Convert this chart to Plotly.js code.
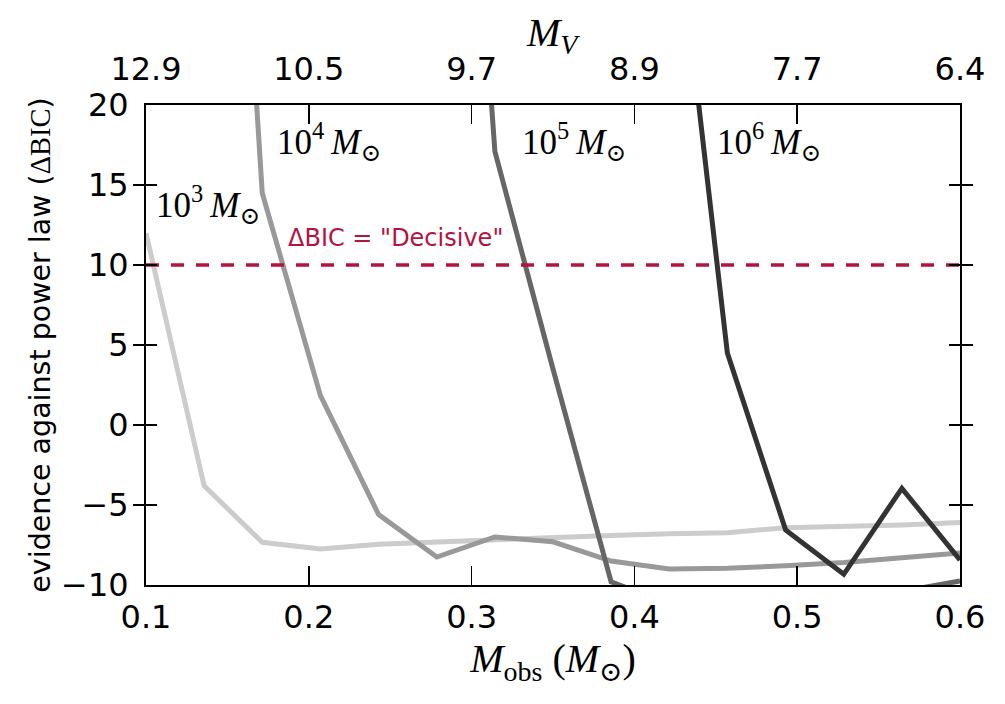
<!DOCTYPE html>
<html>
<head>
<meta charset="utf-8">
<script src="https://cdn.plot.ly/plotly-3.0.1.min.js"></script>
<style>
  html, body { margin: 0; padding: 0; background: #ffffff; }
  #chart { width: 1005px; height: 704px; }
</style>
</head>
<body>
<div id="chart"></div>
<script>
// Observed mass grid (solar masses)
const mObs = [0.1, 0.1357, 0.1714, 0.2071, 0.2429, 0.2786, 0.3143, 0.35,
              0.3857, 0.4214, 0.4571, 0.4929, 0.5286, 0.5643, 0.6];

// Delta BIC against a pure power law, one series per cluster mass
const bic1e3 = [12.0, -3.8, -7.33, -7.75, -7.45, -7.3, -7.2, -7.0,
                -6.9, -6.8, -6.73, -6.42, -6.35, -6.25, -6.1];
const bic1e4 = [null, 72, 14.5, 1.85, -5.6, -8.25, -7.0, -7.3,
                -8.5, -9.0, -8.95, -8.8, -8.6, -8.3, -8.0];
const bic1e5 = [null, null, null, null, null, 68, 17.1, 3.5,
                -9.8, -11.2, -11.0, -10.9, -10.8, -10.4, -9.75];
const bic1e6 = [null, null, null, null, null, null, null, null,
                null, 36, 4.5, -6.56, -9.33, -3.96, -8.44];

const seriesNames = ["10<sup>3</sup>\u2009<i>M</i><sub>⊙</sub>",
                     "10<sup>4</sup>\u2009<i>M</i><sub>⊙</sub>",
                     "10<sup>5</sup>\u2009<i>M</i><sub>⊙</sub>",
                     "10<sup>6</sup>\u2009<i>M</i><sub>⊙</sub>"];
const seriesValues = [bic1e3, bic1e4, bic1e5, bic1e6];

// Bottom axis ticks and the matching absolute V magnitudes on top
const massTicks = [0.1, 0.2, 0.3, 0.4, 0.5, 0.6];
const magLabels = ["12.9", "10.5", "9.7", "8.9", "7.7", "6.4"];
const topAxisTitle = "<i>M</i><sub><i>V</i></sub>";

// "Decisive" evidence threshold
const decisiveLevel = 10;
const decisiveLabel = "ΔBIC = \"Decisive\"";

// Label anchor points (x, y in data units) for each mass curve
const labelX = [0.1050, 0.1795, 0.3300, 0.4497];
const labelY = [13.8, 17.7, 17.7, 17.7];

const lineColors = ["#cccccc", "#999999", "#666666", "#333333"];
const mathFont = "Liberation Serif, DejaVu Serif, serif";
const sansFont = "DejaVu Sans, sans-serif";

const traces = seriesValues.map((vals, i) => ({
  x: mObs,
  y: vals,
  type: "scatter",
  mode: "lines",
  line: { color: lineColors[i], width: 5 },
  name: seriesNames[i],
  hoverinfo: "x+y",
  showlegend: false
}));

// threshold line, drawn on the top (magnitude) axis which shares the mass range
traces.push({
  x: [massTicks[0], massTicks[massTicks.length - 1]],
  y: [decisiveLevel, decisiveLevel],
  xaxis: "x2",
  type: "scatter",
  mode: "lines",
  line: { color: "#b5123f", width: 3.5, dash: "13px,12px" },
  hoverinfo: "skip",
  showlegend: false
});

const annotations = seriesNames.map((t, i) => ({
  x: labelX[i], y: labelY[i], xref: "x", yref: "y",
  text: t, showarrow: false, xanchor: "left", yanchor: "middle",
  font: { family: mathFont, size: 35, color: "#000000" }
}));
annotations.push({
  x: 0.186, y: 11.66, xref: "x", yref: "y",
  text: decisiveLabel, showarrow: false, xanchor: "left", yanchor: "middle",
  font: { family: sansFont, size: 24, color: "#b5123f" }
});
// title of the top magnitude axis, set above its tick labels
annotations.push({
  x: 0.5, y: 1, xref: "paper", yref: "paper",
  text: topAxisTitle, showarrow: false, xanchor: "center", yanchor: "middle",
  yshift: 70,
  font: { family: mathFont, size: 40, color: "#000000" }
});

const layout = {
  width: 1005,
  height: 704,
  margin: { l: 146, r: 45, t: 105, b: 119, pad: 0 },
  paper_bgcolor: "#ffffff",
  plot_bgcolor: "#ffffff",
  showlegend: false,
  xaxis: {
    range: [0.1, 0.6],
    tickvals: massTicks,
    tickformat: ".1f",
    ticks: "inside",
    ticklen: 19,
    tickwidth: 1.5,
    tickcolor: "#000000",
    ticklabelstandoff: 3,
    showline: true,
    linewidth: 2,
    linecolor: "#000000",
    mirror: true,
    showgrid: false,
    zeroline: false,
    tickfont: { family: sansFont, size: 32, color: "#000000" },
    title: {
      text: "<i>M</i><sub>obs</sub> (<i>M</i><sub>⊙</sub>)",
      font: { family: mathFont, size: 40, color: "#000000" },
      standoff: 4
    }
  },
  xaxis2: {
    overlaying: "x",
    side: "top",
    range: [0.1, 0.6],
    tickvals: massTicks,
    ticktext: magLabels,
    ticks: "inside",
    ticklen: 19,
    tickwidth: 1.5,
    tickcolor: "#000000",
    ticklabelstandoff: 18,
    showline: false,
    showgrid: false,
    zeroline: false,
    tickfont: { family: sansFont, size: 32, color: "#000000" }
  },
  yaxis: {
    range: [-10, 20],
    tickvals: [-10, -5, 0, 5, 10, 15, 20],
    ticks: "inside",
    ticklen: 11,
    tickwidth: 1.5,
    tickcolor: "#000000",
    ticklabelstandoff: 9,
    showline: true,
    linewidth: 2,
    linecolor: "#000000",
    mirror: "allticks",
    showgrid: false,
    zeroline: false,
    tickfont: { family: sansFont, size: 32, color: "#000000" },
    title: {
      text: "evidence against power law (<span style=\"font-family:'Liberation Serif'\">ΔBIC</span>)",
      font: { family: sansFont, size: 28.5, color: "#000000" },
      standoff: 2
    }
  },
  annotations: annotations
};

Plotly.newPlot("chart", traces, layout, { displayModeBar: false, staticPlot: true });
</script>
</body>
</html>
